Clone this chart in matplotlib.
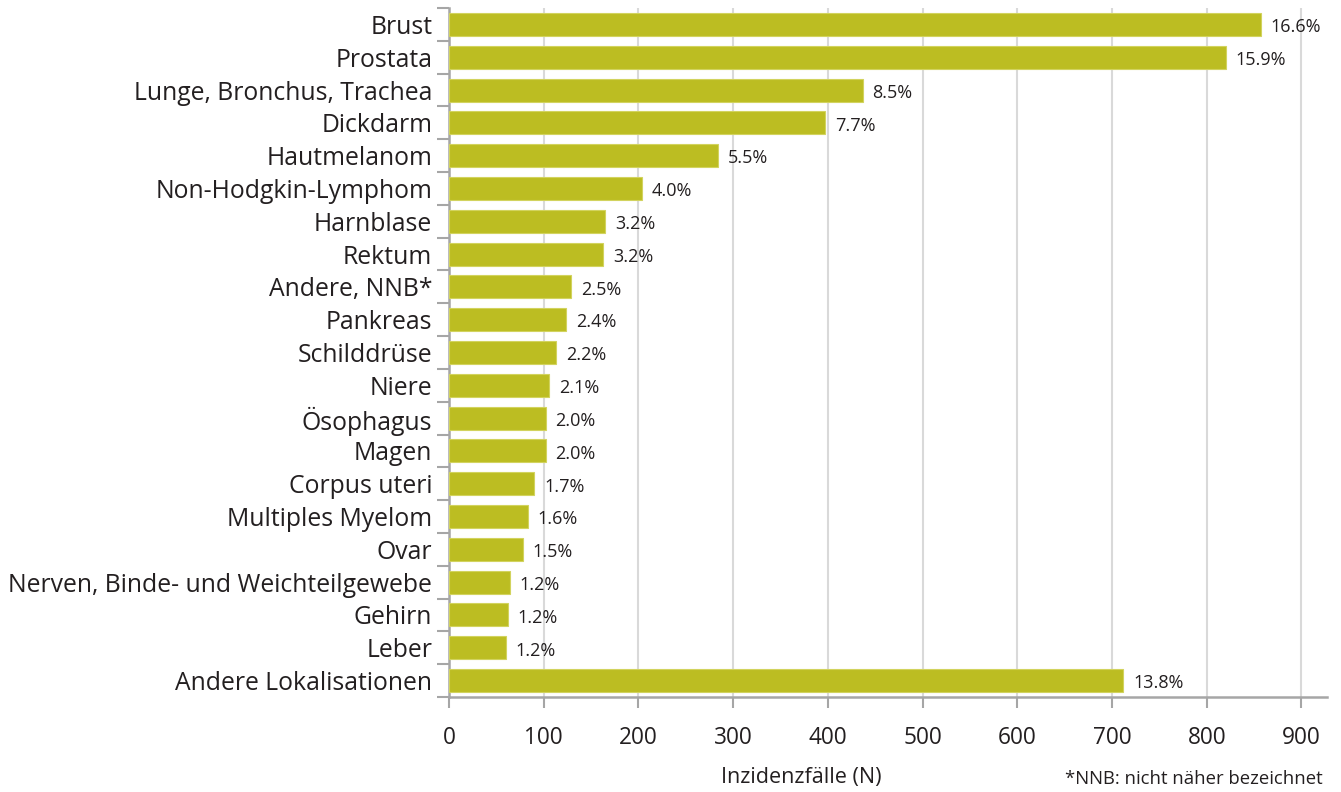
import matplotlib.pyplot as plt
import numpy as np

plt.rcParams["font.family"] = ["Open Sans", "DejaVu Sans"]

categories = [
    "Brust",
    "Prostata",
    "Lunge, Bronchus, Trachea",
    "Dickdarm",
    "Hautmelanom",
    "Non-Hodgkin-Lymphom",
    "Harnblase",
    "Rektum",
    "Andere, NNB*",
    "Pankreas",
    "Schilddrüse",
    "Niere",
    "Ösophagus",
    "Magen",
    "Corpus uteri",
    "Multiples Myelom",
    "Ovar",
    "Nerven, Binde- und Weichteilgewebe",
    "Gehirn",
    "Leber",
    "Andere Lokalisationen",
]
cases = [857, 820, 437, 397, 284, 204, 165, 163, 129, 124, 113,
         106, 102, 102, 90, 83, 78, 64, 62, 60, 712]
percent_labels = ["16.6%", "15.9%", "8.5%", "7.7%", "5.5%", "4.0%", "3.2%",
                  "3.2%", "2.5%", "2.4%", "2.2%", "2.1%", "2.0%", "2.0%",
                  "1.7%", "1.6%", "1.5%", "1.2%", "1.2%", "1.2%", "13.8%"]
xticks = [0, 100, 200, 300, 400, 500, 600, 700, 800, 900]

bar_color = "#bcbd22"
axis_color = "#a6a6a6"
grid_color = "#d9d9d9"
text_color = "#231f20"

fig = plt.figure(figsize=(13.41, 7.92), dpi=100)
ax = fig.add_axes([449 / 1341, 1 - 697 / 792, (1327 - 449) / 1341, (697 - 8) / 792])

y = np.arange(len(categories))
bars = ax.barh(y, cases, height=0.7, color=bar_color,
               edgecolor="#d2d35e", linewidth=0.8, zorder=3)
for b, lab in zip(bars, percent_labels):
    ax.annotate(lab, (b.get_width(), b.get_y() + b.get_height() / 2),
                xytext=(7, -2), textcoords="offset points",
                ha="left", va="center", fontsize=13, color=text_color)

ax.set_ylim(len(categories) - 0.5, -0.5)
ax.set_xlim(0, 927)

ax.set_yticks(y)
ax.set_yticklabels(categories, fontsize=17.8, color=text_color)
ax.tick_params(axis="y", length=0, pad=12)
ax.set_yticks(np.arange(-0.5, len(categories), 1), minor=True)
ax.tick_params(axis="y", which="minor", length=9, width=1.5, color=axis_color)

ax.set_xticks(xticks)
ax.set_xticklabels([str(t) for t in xticks], fontsize=16.3, color=text_color)
ax.tick_params(axis="x", length=8, width=1.5, color=axis_color, pad=13)

ax.grid(axis="x", color=grid_color, linewidth=1.5, zorder=0)
ax.set_axisbelow(True)

for s in ["top", "right"]:
    ax.spines[s].set_visible(False)
for s in ["left", "bottom"]:
    ax.spines[s].set_color(axis_color)
    ax.spines[s].set_linewidth(1.8)

fig.text(801 / 1341, 1 - 778 / 792, "Inzidenzfälle (N)", ha="center",
         va="center", fontsize=15.5, color=text_color)
fig.text(1323 / 1341, 1 - 779 / 792, "*NNB: nicht näher bezeichnet",
         ha="right", va="center", fontsize=13.3, color=text_color)

fig.savefig("out.png", dpi=100)
